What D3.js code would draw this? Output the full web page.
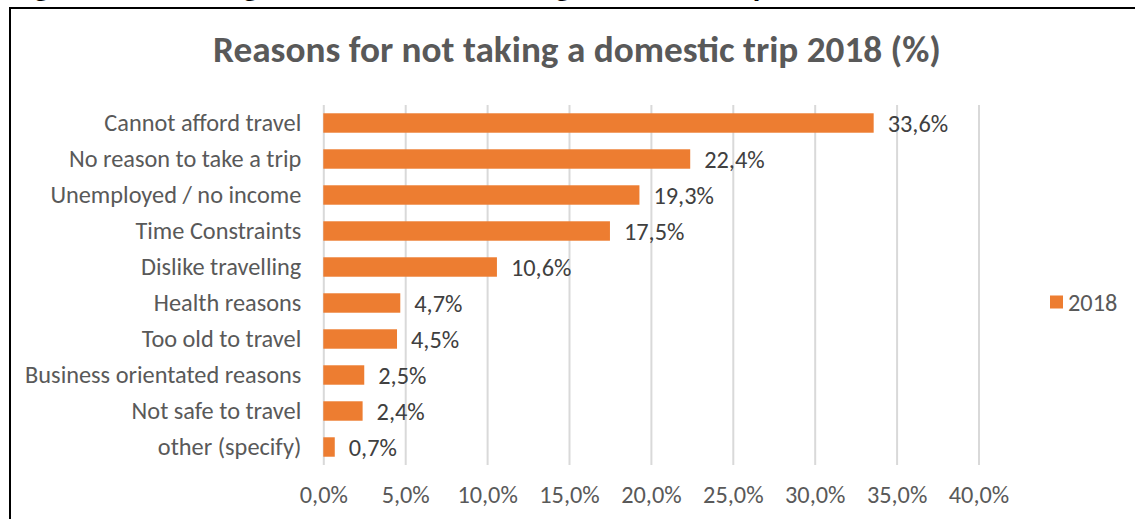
<!DOCTYPE html>
<html>
<head>
<meta charset="utf-8">
<script src="https://cdn.jsdelivr.net/npm/d3@7"></script>
<style>
  html, body { margin: 0; padding: 0; background: #ffffff; overflow: hidden; }
  svg { display: block; }
</style>
</head>
<body>
<svg id="chart" width="1135" height="519"></svg>
<script>
// Reasons for not taking a domestic trip, 2018 (% of respondents)
const categories = [
  "Cannot afford travel",
  "No reason to take a trip",
  "Unemployed / no income",
  "Time Constraints",
  "Dislike travelling",
  "Health reasons",
  "Too old to travel",
  "Business orientated reasons",
  "Not safe to travel",
  "other (specify)"
];
const values2018 = [33.6, 22.4, 19.3, 17.5, 10.6, 4.7, 4.5, 2.5, 2.4, 0.7];
const seriesName = "2018";
const tickValues = [0, 5, 10, 15, 20, 25, 30, 35, 40];
const chartTitle = "Reasons for not taking a domestic trip 2018 (%)";
const captionText = "Figure 9: Reasons given for not undertaking a domestic trip";

const FONT = "Carlito, Calibri, 'Open Sans', sans-serif";
const svg = d3.select("#chart");

// comma as decimal separator
const locale = d3.formatLocale({ decimal: ",", thousands: " ", grouping: [3], currency: ["", ""] });
const pct = v => locale.format(".1f")(v) + "%";

// Shrink/grow a text node's font-size so it spans the given width
function fitWidth(sel, target) {
  const node = sel.node();
  const fs = parseFloat(sel.attr("font-size"));
  const w = node.getComputedTextLength();
  const s = fs * target / w;
  sel.attr("font-size", s);
  return s;
}

// caption of the surrounding document; only its descenders reach the page
svg.append("text")
  .attr("x", 12).attr("y", -4)
  .attr("font-family", FONT).attr("font-weight", "bold")
  .attr("font-size", 31).attr("fill", "#000")
  .text(captionText);

// chart frame
svg.append("rect")
  .attr("x", 10).attr("y", 8)
  .attr("width", 1135).attr("height", 530)
  .attr("fill", "none").attr("stroke", "#000").attr("stroke-width", 2);

// title
const title = svg.append("text")
  .attr("x", 577).attr("y", 62)
  .attr("text-anchor", "middle")
  .attr("font-family", FONT).attr("font-weight", "bold")
  .attr("font-size", 32).attr("fill", "#595959")
  .text(chartTitle);
fitWidth(title, 728);

// scales
const x = d3.scaleLinear().domain([0, 40]).range([323.3, 978.5]);
const y = d3.scaleBand().domain(categories).range([105, 465])
  .paddingInner(0.46).paddingOuter(0.23);

// work out a body font size from a category label's width
const probe = svg.append("text")
  .attr("font-family", FONT).attr("font-size", 22)
  .text(categories[0]);
const bodySize = fitWidth(probe, 197);
probe.remove();

// vertical gridlines + bottom tick labels
const xAxis = svg.append("g")
  .attr("transform", `translate(0,${y.range()[1]})`)
  .call(d3.axisBottom(x).tickValues(tickValues)
    .tickSize(-(y.range()[1] - y.range()[0]))
    .tickFormat(pct));
xAxis.select(".domain").remove();
xAxis.selectAll(".tick line").attr("stroke", "#d9d9d9").attr("stroke-width", 2);
xAxis.selectAll(".tick text")
  .attr("y", 38).attr("dy", 0)
  .attr("font-family", FONT).attr("font-size", bodySize)
  .attr("fill", "#595959");

// category labels
const yAxis = svg.append("g")
  .attr("transform", `translate(${x(0)},0)`)
  .call(d3.axisLeft(y).tickSize(0).tickPadding(22));
yAxis.select(".domain").remove();
yAxis.selectAll(".tick text")
  .attr("font-family", FONT).attr("font-size", bodySize)
  .attr("fill", "#595959");

// bars
svg.append("g").selectAll("rect")
  .data(values2018)
  .join("rect")
  .attr("x", x(0))
  .attr("y", (d, i) => y(categories[i]))
  .attr("width", d => x(d) - x(0))
  .attr("height", y.bandwidth())
  .attr("fill", "#ed7d31");

// value labels
svg.append("g").selectAll("text")
  .data(values2018)
  .join("text")
  .attr("x", d => x(d) + 14)
  .attr("y", (d, i) => y(categories[i]) + y.bandwidth() / 2)
  .attr("dy", "0.35em")
  .attr("font-family", FONT).attr("font-size", bodySize)
  .attr("fill", "#404040")
  .text(d => pct(d));

// legend
const legend = svg.append("g").attr("transform", "translate(1050,302)");
legend.append("rect")
  .attr("x", 0).attr("y", -6.5).attr("width", 13).attr("height", 13)
  .attr("fill", "#ed7d31");
legend.append("text")
  .attr("x", 18).attr("y", 0).attr("dy", "0.35em")
  .attr("font-family", FONT).attr("font-size", bodySize)
  .attr("fill", "#595959")
  .text(seriesName);
</script>
</body>
</html>
